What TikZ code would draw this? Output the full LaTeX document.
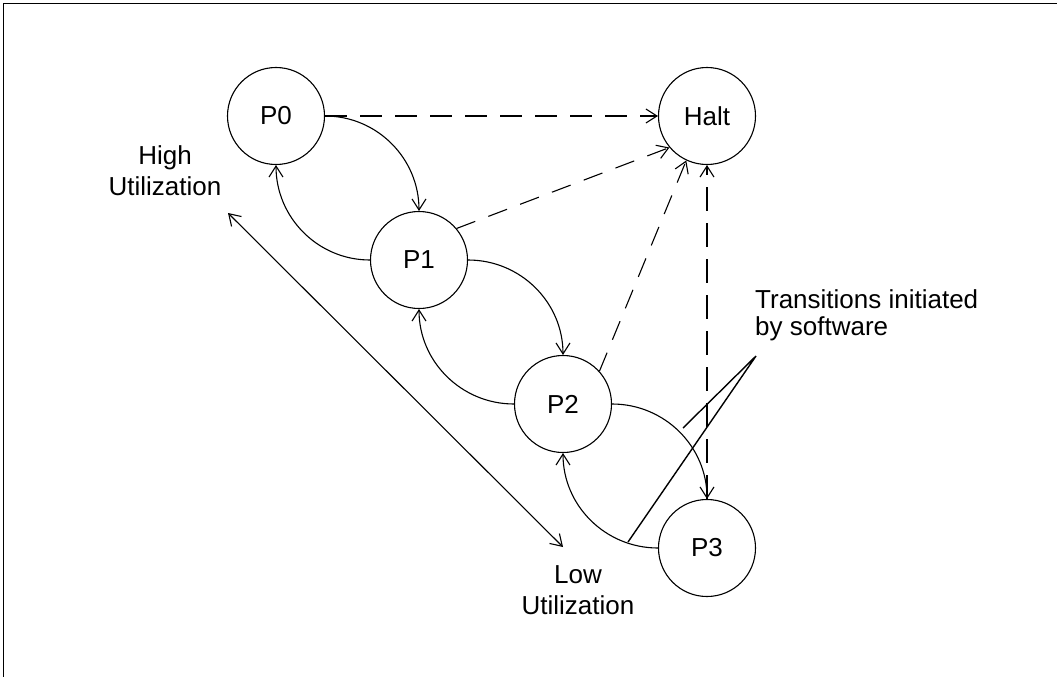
\documentclass[tikz,border=0pt]{standalone}
\usepackage{fontspec}
\setmainfont{Liberation Sans}
\usetikzlibrary{arrows.meta}
\begin{document}
\begin{tikzpicture}[x=1pt,y=-1pt,
  state/.style={draw,circle,minimum size=97pt,inner sep=0pt,line width=1.1pt,font=\fontsize{26}{30}\selectfont},
  lbl/.style={inner sep=0pt,font=\fontsize{26}{31}\selectfont},
  tip/.style={Straight Barb[length=11pt,width=14pt,line width=1.1pt]},
  arr/.style={line width=1.1pt,-{Straight Barb[length=11pt,width=14pt,line width=1.1pt]}},
  dthick/.style={line width=1.8pt,dash pattern=on 22pt off 13pt,-{Straight Barb[length=11pt,width=14pt,line width=1.1pt]}},
  dthin/.style={line width=1.1pt,dash pattern=on 20pt off 14pt,-{Straight Barb[length=11pt,width=14pt,line width=1.1pt]}},
  callout/.style={line width=1.4pt}
]
\useasboundingbox (0,0) rectangle (1057,677);
\draw[line width=1.4pt] (3.5,677) -- (3.5,3.5) -- (1057,3.5);

\node[state] (P0) at (276,116) {P0};
\node[state] (Halt) at (707,116) {Halt};
\node[state] (P1) at (419,260) {P1};
\node[state] (P2) at (563,404) {P2};
\node[state] (P3) at (707,548) {P3};

% state transitions
\draw[arr] (P0.east) to[out=0,in=90] (P1.north);
\draw[arr] (P1.west) to[out=180,in=-90] (P0.south);
\draw[arr] (P1.east) to[out=0,in=90] (P2.north);
\draw[arr] (P2.west) to[out=180,in=-90] (P1.south);
\draw[arr] (P2.east) to[out=0,in=90] (P3.north);
\draw[arr] (P3.west) to[out=180,in=-90] (P2.south);

% transitions to Halt
\draw[dthick] (P0.east) -- (Halt.west);
\draw[dthin] (P1.40) -- (Halt.220);
\draw[dthin] (P2.42) -- (Halt.245);
\draw[dthick,dash pattern=on 24pt off 12pt] (P3.north) -- (Halt.south);

% utilization double arrow
\coordinate (hi) at (228,213);
\coordinate (lo) at (563,547);
\draw[line width=1.1pt,{Straight Barb[length=11pt,width=14pt,line width=1.1pt]}-{Straight Barb[length=11pt,width=14pt,line width=1.1pt]}] (hi) -- (lo);

\node[lbl,align=center] (high) at (165,171) {High\\Utilization};
\node[lbl,align=center] (low) at (578,590) {Low\\Utilization};
\node[lbl,align=left,anchor=west,font=\fontsize{26}{27}\selectfont] (sw) at (755,315) {Transitions initiated\\by software};

% callout
\coordinate (c0) at (756,356);
\coordinate (c1) at (683,428);
\coordinate (c2) at (628,542);
\draw[callout] (c1) -- (c0) -- (c2);
\end{tikzpicture}
\end{document}
